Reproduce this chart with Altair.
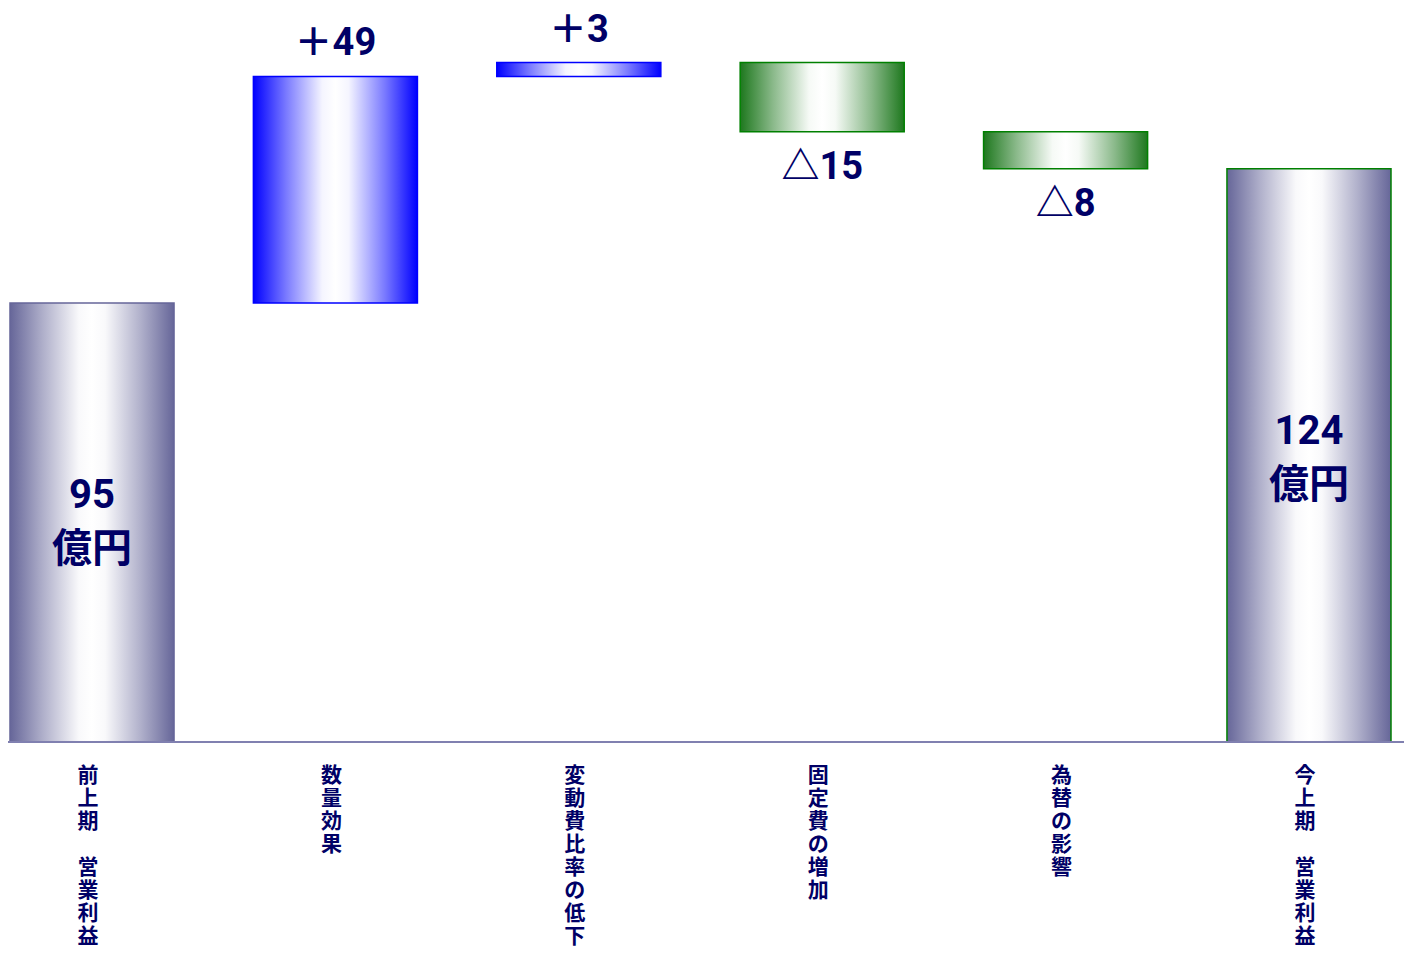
import altair as alt
import pandas as pd

categories = ["前上期　営業利益", "数量効果", "変動費比率の低下", "固定費の増加", "為替の影響", "今上期　営業利益"]
kinds = ["total", "up", "up", "down", "down", "total"]
amounts = [95, 49, 3, -15, -8, 124]
value_labels = ["95\n億円", "＋49", "＋3", "△15", "△8", "124\n億円"]
strokes = ["#666699", "#0000ff", "#0000ff", "#008000", "#008000", "#008000"]

rows = []
running = 0
for c, k, a, lab, s in zip(categories, kinds, amounts, value_labels, strokes):
    if k == "total":
        start, end = 0, a
        running = a
    else:
        start, end = running, running + a
        running = end
    rows.append({"cat": c, "kind": k, "start": start, "end": end,
                 "lo": min(start, end), "hi": max(start, end),
                 "mid": (start + end) / 2, "label": lab, "stroke": s})
df = pd.DataFrame(rows)

W, H = 1396, 734
NAVY = "#000066"


def mix(edge, t):
    r, g, b = int(edge[1:3], 16), int(edge[3:5], 16), int(edge[5:7], 16)
    f = lambda c: int(round(c + (255 - c) * t))
    return "#%02x%02x%02x" % (f(r), f(g), f(b))


def grad(edge):
    stops = [(0, 0.0), (0.2, 0.48), (0.42, 0.96), (0.5, 1.0), (0.58, 0.96), (0.8, 0.48), (1, 0.0)]
    return alt.LinearGradient(
        gradient="linear", x1=0, x2=1, y1=0, y2=0,
        stops=[alt.GradientStop(color=mix(edge, t), offset=o) for o, t in stops])


xscale = alt.Scale(domain=categories, paddingInner=0.326, paddingOuter=0.0308, align=0.133)
yscale = alt.Scale(domain=[0, 158.8], nice=False, zero=True)

BLANK = "\u200b"
xaxis = alt.Axis(labelAngle=0, ticks=False, domain=False, grid=False,
                 labelExpr="split(replace(datum.label, '\u3000', '" + BLANK + "'), '')",
                 labelFont="Noto Sans CJK JP", labelFontWeight="bold",
                 labelFontSize=21, labelLineHeight=23, labelColor=NAVY,
                 labelPadding=22, labelOffset=-4, labelBaseline="top")
xenc = alt.X("cat:N", scale=xscale, sort=categories, title=None, axis=xaxis)
yenc = alt.Y("lo:Q", scale=yscale, axis=None)

base = alt.Chart(df)


def bars(kind, edge):
    return base.transform_filter(alt.datum.kind == kind).mark_bar(
        fill=grad(edge), strokeWidth=1.5).encode(
        x=xenc, y=yenc, y2="hi:Q",
        stroke=alt.Stroke("stroke:N", scale=None))


total_bars = bars("total", "#666699")
up_bars = bars("up", "#0000ff")
down_bars = bars("down", "#1e781e")

baseline = alt.Chart(pd.DataFrame({"v": [0]})).mark_rule(
    color="#8080b0", strokeWidth=2).encode(
    y=alt.Y("v:Q", scale=yscale, axis=None), x=alt.value(0), x2=alt.value(W))

font = "Roboto, 'Noto Sans CJK JP'"


def total_text(cat, dy):
    return base.transform_filter(alt.datum.cat == cat).mark_text(
        font=font, fontWeight="bold", fontSize=40, color=NAVY, lineBreak="\n",
        lineHeight=54, baseline="middle", align="center", dy=dy).encode(
        x=xenc, y=alt.Y("mid:Q", scale=yscale, axis=None), text="label:N")


in_text1 = total_text(categories[0], -26)
in_text2 = total_text(categories[-1], -23)

up_text = base.transform_filter(alt.datum.kind == "up").mark_text(
    font=font, fontWeight="bold", fontSize=38, color=NAVY,
    baseline="middle", align="center", dy=-32).encode(
    x=xenc, y=alt.Y("hi:Q", scale=yscale, axis=None), text="label:N")

down_text = base.transform_filter(alt.datum.kind == "down").mark_text(
    font=font, fontWeight="bold", fontSize=38, color=NAVY,
    baseline="middle", align="center", dy=36).encode(
    x=xenc, y=alt.Y("lo:Q", scale=yscale, axis=None), text="label:N")

chart = alt.layer(total_bars, up_bars, down_bars, baseline, in_text1, in_text2, up_text, down_text).properties(
    width=W, height=H,
    autosize=alt.AutoSizeParams(type="none"),
    padding={"left": 0, "top": 0, "right": 0, "bottom": 208},
).configure(background="white").configure_view(strokeWidth=0, stroke=None)

chart.save("out.html", embed_options={"renderer": "svg", "actions": False})
